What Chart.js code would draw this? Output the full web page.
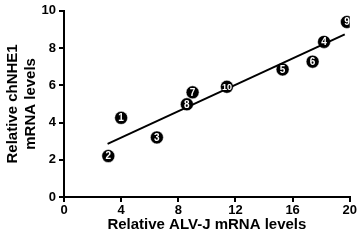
<!DOCTYPE html>
<html>
<head>
<meta charset="utf-8">
<script src="https://cdn.jsdelivr.net/npm/chart.js@4"></script>
<style>
  html, body { margin: 0; padding: 0; background: #fff; }
  #wrap { width: 358px; height: 243px; }
</style>
</head>
<body>
<div id="wrap"><canvas id="chart"></canvas></div>
<script>
// sample numbers and their positions
const sampleIds = ['1', '2', '3', '4', '5', '6', '7', '8', '9', '10'];
const alvj = [4.0, 3.1, 6.5, 18.2, 15.3, 17.4, 9.0, 8.6, 19.8, 11.4];
const nhe1 = [4.25, 2.2, 3.2, 8.33, 6.85, 7.27, 5.62, 4.98, 9.4, 5.92];

// regression line end points
const fitX = [3.05, 19.65];
const fitY = [2.85, 8.73];

const tickFont = { family: 'Arial, "Liberation Sans", sans-serif', size: 13, weight: 'bold' };
const titleFont = { family: 'Arial, "Liberation Sans", sans-serif', size: 15, weight: 'bold', lineHeight: 1.25 };

const numberLabels = {
    id: 'numberLabels',
    afterDatasetsDraw(chart) {
        const ctx = chart.ctx;
        const meta = chart.getDatasetMeta(1);
        ctx.save();
        ctx.fillStyle = '#fff';
        ctx.textAlign = 'center';
        ctx.textBaseline = 'middle';
        meta.data.forEach(function (pt, i) {
            const txt = sampleIds[i];
            ctx.font = 'bold ' + (txt.length > 1 ? 9 : 10) + 'px Arial, "Liberation Sans", sans-serif';
            ctx.fillText(txt, pt.x, pt.y + 0.5);
        });
        ctx.restore();
    }
};

new Chart(document.getElementById('chart'), {
    type: 'scatter',
    data: {
        datasets: [{
            type: 'line',
            data: fitX.map((x, i) => ({ x: x, y: fitY[i] })),
            borderColor: '#000',
            borderWidth: 2,
            pointRadius: 0,
            fill: false
        }, {
            data: alvj.map((x, i) => ({ x: x, y: nhe1[i] })),
            backgroundColor: '#000',
            borderColor: '#fff',
            borderWidth: 0.5,
            pointRadius: 6.5
        }]
    },
    options: {
        responsive: true,
        maintainAspectRatio: false,
        animation: false,
        layout: { padding: { top: 7, right: 8, left: 0, bottom: 0 } },
        plugins: {
            legend: { display: false },
            tooltip: { enabled: false }
        },
        scales: {
            x: {
                type: 'linear',
                min: 0,
                max: 20,
                afterFit: s => { s.height = 46; },
                border: { color: '#000', width: 2 },
                grid: { drawOnChartArea: false, drawTicks: true, tickLength: 5, color: '#000', lineWidth: 2 },
                ticks: { stepSize: 4, color: '#000', font: tickFont, padding: 1, maxRotation: 0 },
                title: { display: true, text: 'Relative ALV-J mRNA levels', color: '#000', font: titleFont, padding: { bottom: 9, top: 0 } }
            },
            y: {
                min: 0,
                max: 10,
                afterFit: s => { s.width = 64; },
                border: { color: '#000', width: 2 },
                grid: { drawOnChartArea: false, drawTicks: true, tickLength: 5, color: '#000', lineWidth: 2 },
                ticks: { stepSize: 2, color: '#000', font: tickFont, padding: 3 },
                title: { display: true, text: ['Relative chNHE1', 'mRNA levels'], color: '#000', font: titleFont, padding: { top: 3, bottom: 0 } }
            }
        }
    },
    plugins: [numberLabels]
});
</script>
</body>
</html>
